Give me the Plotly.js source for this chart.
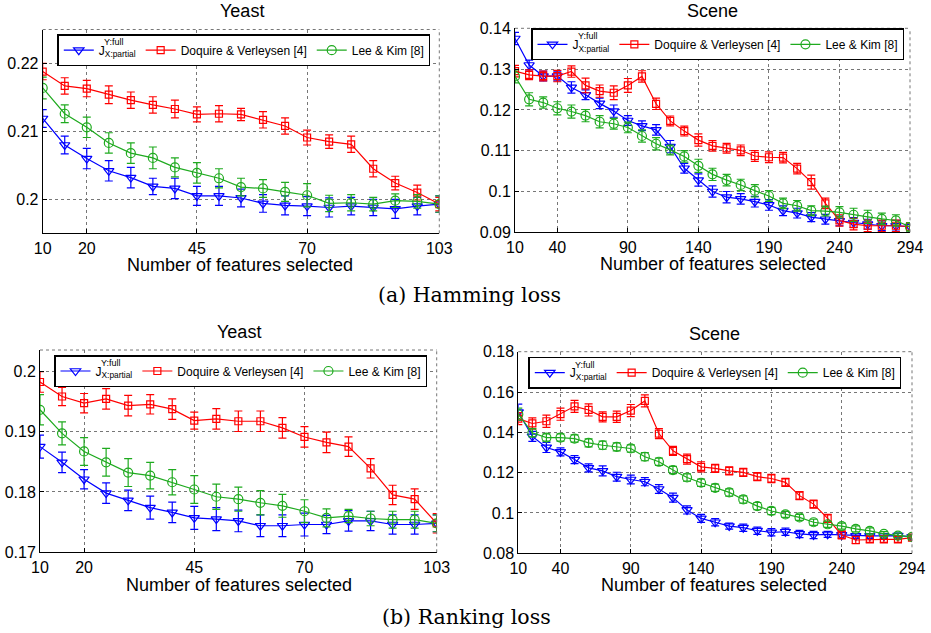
<!DOCTYPE html>
<html>
<head>
<meta charset="utf-8">
<script src="https://cdn.plot.ly/plotly-3.0.1.min.js"></script>
<style>html,body{margin:0;padding:0;background:#fff;}#chart{width:931px;height:633px;}</style>
</head>
<body>
<div id="chart"></div>
<script>
// ---------------- data ----------------
const yeastX = [10,15,20,25,30,35,40,45,50,55,60,65,70,75,80,85,90,95,100];
const sceneX = [10,20,30,40,50,60,70,80,90,100,110,120,130,140,150,160,170,180,190,200,210,220,230,240,250,260,270,280,290];
const yeastTicks = [10,20,45,70,100];
const yeastTickText = ['10','20','45','70','103'];
const sceneTicks = [10,40,90,140,190,240,290];
const sceneTickText = ['10','40','90','140','190','240','294'];

const seriesNames = ['J<sub>X:partial</sub>', 'Doquire & Verleysen [4]', 'Lee & Kim [8]'];
const supText = 'Y:full';
const panelTitles = ['Yeast', 'Scene', 'Yeast', 'Scene'];
const xTitle = 'Number of features selected';
const captions = ['(a) Hamming loss', '(b) Ranking loss'];

// Hamming loss - Yeast
const hamYeastJ    = [0.2119,0.2080,0.2060,0.2042,0.2032,0.2019,0.2016,0.2005,0.2005,0.2002,0.1994,0.1991,0.1990,0.1988,0.1990,0.1988,0.1986,0.1990,0.1993];
const hamYeastJErr = [0.0013,0.0013,0.0015,0.0015,0.0015,0.0012,0.0015,0.0014,0.0014,0.0013,0.0013,0.0014,0.0014,0.0014,0.0013,0.0012,0.0014,0.0013,0.0012];
const hamYeastDV    = [0.2188,0.2167,0.2163,0.2154,0.2146,0.2139,0.2133,0.2125,0.2126,0.2125,0.2117,0.2108,0.2091,0.2085,0.2081,0.2045,0.2024,0.2010,0.1993];
const hamYeastDVErr = [0.0012,0.0012,0.0012,0.0013,0.0012,0.0012,0.0013,0.0011,0.0012,0.0009,0.0012,0.0012,0.0011,0.0010,0.0012,0.0012,0.0010,0.0011,0.0010];
const hamYeastLK    = [0.2164,0.2126,0.2106,0.2083,0.2068,0.2061,0.2047,0.2039,0.2031,0.2018,0.2016,0.2011,0.2006,0.1994,0.1995,0.1993,0.1998,0.1997,0.1993];
const hamYeastLKErr = [0.0016,0.0013,0.0015,0.0015,0.0015,0.0016,0.0014,0.0015,0.0014,0.0013,0.0013,0.0014,0.0017,0.0012,0.0012,0.0010,0.0010,0.0010,0.0012];

// Hamming loss - Scene
const hamSceneJ    = [0.1375,0.1310,0.1283,0.1283,0.1255,0.1237,0.1216,0.1197,0.1174,0.1161,0.1151,0.1110,0.1057,0.1028,0.1000,0.0986,0.0982,0.0975,0.0967,0.0953,0.0947,0.0937,0.0932,0.0928,0.0924,0.0920,0.0916,0.0916,0.0914];
const hamSceneJErr = [0.0015,0.0012,0.0012,0.0012,0.0014,0.0012,0.0013,0.0015,0.0012,0.0012,0.0013,0.0015,0.0012,0.0015,0.0014,0.0014,0.0013,0.0013,0.0013,0.0012,0.0012,0.0011,0.0012,0.0012,0.0012,0.0012,0.0012,0.0013,0.0010];
const hamSceneDV    = [0.1295,0.1286,0.1283,0.1283,0.1294,0.1260,0.1246,0.1242,0.1260,0.1282,0.1215,0.1173,0.1148,0.1126,0.1112,0.1106,0.1101,0.1087,0.1084,0.1083,0.1056,0.1023,0.0971,0.0929,0.0920,0.0916,0.0916,0.0916,0.0914];
const hamSceneDVErr = [0.0014,0.0012,0.0012,0.0014,0.0014,0.0018,0.0015,0.0017,0.0017,0.0014,0.0014,0.0012,0.0012,0.0015,0.0013,0.0012,0.0013,0.0013,0.0013,0.0013,0.0013,0.0017,0.0013,0.0014,0.0014,0.0014,0.0014,0.0014,0.0010];
const hamSceneLK    = [0.1282,0.1226,0.1218,0.1204,0.1196,0.1186,0.1171,0.1166,0.1157,0.1136,0.1117,0.1102,0.1086,0.1063,0.1042,0.1028,0.1016,0.1002,0.0989,0.0971,0.0965,0.0953,0.0952,0.0949,0.0943,0.0938,0.0933,0.0929,0.0913];
const hamSceneLKErr = [0.0016,0.0016,0.0014,0.0016,0.0016,0.0015,0.0015,0.0013,0.0013,0.0015,0.0015,0.0012,0.0014,0.0016,0.0015,0.0014,0.0014,0.0015,0.0013,0.0013,0.0013,0.0012,0.0012,0.0014,0.0016,0.0016,0.0014,0.0014,0.0010];

// Ranking loss - Yeast
const rankYeastJ    = [0.1875,0.1849,0.1821,0.1798,0.1786,0.1774,0.1766,0.1757,0.1755,0.1752,0.1744,0.1744,0.1746,0.1746,0.1752,0.1752,0.1746,0.1746,0.1748];
const rankYeastJErr = [0.0019,0.0017,0.0016,0.0017,0.0017,0.0019,0.0017,0.0019,0.0019,0.0018,0.0018,0.0018,0.0019,0.0015,0.0017,0.0016,0.0016,0.0016,0.0014];
const rankYeastDV    = [0.1982,0.1958,0.1947,0.1954,0.1943,0.1945,0.1937,0.1918,0.1921,0.1917,0.1917,0.1906,0.1891,0.1882,0.1875,0.1839,0.1795,0.1788,0.1748];
const rankYeastDVErr = [0.0017,0.0015,0.0016,0.0017,0.0017,0.0016,0.0017,0.0014,0.0017,0.0017,0.0017,0.0017,0.0017,0.0017,0.0016,0.0016,0.0016,0.0017,0.0016];
const rankYeastLK    = [0.1936,0.1897,0.1867,0.1849,0.1832,0.1827,0.1816,0.1804,0.1792,0.1788,0.1782,0.1777,0.1768,0.1757,0.1760,0.1756,0.1754,0.1754,0.1748];
const rankYeastLKErr = [0.0025,0.0019,0.0023,0.0023,0.0023,0.0022,0.0021,0.0023,0.0021,0.0020,0.0020,0.0019,0.0019,0.0015,0.0011,0.0012,0.0014,0.0014,0.0014];

// Ranking loss - Scene
const rankSceneJ    = [0.1500,0.1380,0.1325,0.1303,0.1265,0.1224,0.1209,0.1180,0.1166,0.1155,0.1119,0.1076,0.1015,0.0973,0.0954,0.0935,0.0927,0.0912,0.0904,0.0907,0.0896,0.0891,0.0894,0.0891,0.0886,0.0886,0.0886,0.0888,0.0881];
const rankSceneJErr = [0.0040,0.0025,0.0025,0.0020,0.0020,0.0020,0.0025,0.0022,0.0022,0.0020,0.0022,0.0022,0.0020,0.0020,0.0018,0.0015,0.0018,0.0018,0.0018,0.0018,0.0018,0.0018,0.0015,0.0015,0.0012,0.0012,0.0012,0.0012,0.0010];
const rankSceneDV    = [0.1468,0.1444,0.1455,0.1490,0.1529,0.1511,0.1477,0.1477,0.1508,0.1556,0.1394,0.1308,0.1267,0.1229,0.1221,0.1209,0.1201,0.1180,0.1171,0.1152,0.1086,0.1044,0.0973,0.0891,0.0866,0.0869,0.0869,0.0869,0.0878];
const rankSceneDVErr = [0.0030,0.0028,0.0030,0.0030,0.0030,0.0030,0.0025,0.0028,0.0030,0.0030,0.0025,0.0022,0.0025,0.0025,0.0020,0.0020,0.0020,0.0020,0.0020,0.0020,0.0020,0.0020,0.0020,0.0020,0.0018,0.0015,0.0015,0.0015,0.0012];
const rankSceneLK    = [0.1490,0.1398,0.1374,0.1374,0.1369,0.1348,0.1336,0.1328,0.1320,0.1279,0.1254,0.1213,0.1176,0.1150,0.1125,0.1102,0.1067,0.1034,0.1010,0.0993,0.0978,0.0954,0.0944,0.0935,0.0921,0.0911,0.0896,0.0888,0.0881];
const rankSceneLKErr = [0.0030,0.0020,0.0018,0.0018,0.0018,0.0020,0.0020,0.0020,0.0018,0.0020,0.0018,0.0018,0.0018,0.0018,0.0018,0.0018,0.0018,0.0018,0.0018,0.0015,0.0015,0.0015,0.0015,0.0015,0.0015,0.0015,0.0012,0.0012,0.0010];

// y-axis ticks
const yTicks1 = [0.2,0.21,0.22];            const yTickText1 = ['0.2','0.21','0.22'];
const yTicks2 = [0.09,0.1,0.11,0.12,0.13,0.14]; const yTickText2 = ['0.09','0.1','0.11','0.12','0.13','0.14'];
const yTicks3 = [0.17,0.18,0.19,0.2];       const yTickText3 = ['0.17','0.18','0.19','0.2'];
const yTicks4 = [0.08,0.1,0.12,0.14,0.16,0.18]; const yTickText4 = ['0.08','0.1','0.12','0.14','0.16','0.18'];

// ---------------- styling ----------------
const W = 931, H = 633;
const SANS = 'Liberation Sans, Arial, Helvetica, sans-serif';
const SERIF = 'DejaVu Serif, serif';
const COLORS = ['#0000ff', '#ff0000', '#1faa1f'];
const SYMBOLS = ['triangle-down-open', 'square-open', 'circle-open'];
const MSIZE = [9, 7, 9];
const px = x => x / W;
const py = y => 1 - y / H;

// panel geometry in pixels: [left, right, top, bottom]
const panels = [
  {box: [42.7, 439.3, 29.5, 233.3], legend: [57.3, 34.2]},
  {box: [515, 910, 28.3, 232.3],    legend: [531, 28.3]},
  {box: [40, 436.7, 350, 552.3],    legend: [54, 355]},
  {box: [518.3, 912, 351.7, 553.3], legend: [528.3, 356.7]}
];

const panelData = [
  {x: yeastX, ys: [hamYeastJ, hamYeastDV, hamYeastLK], es: [hamYeastJErr, hamYeastDVErr, hamYeastLKErr]},
  {x: sceneX, ys: [hamSceneJ, hamSceneDV, hamSceneLK], es: [hamSceneJErr, hamSceneDVErr, hamSceneLKErr]},
  {x: yeastX, ys: [rankYeastJ, rankYeastDV, rankYeastLK], es: [rankYeastJErr, rankYeastDVErr, rankYeastLKErr]},
  {x: sceneX, ys: [rankSceneJ, rankSceneDV, rankSceneLK], es: [rankSceneJErr, rankSceneDVErr, rankSceneLKErr]}
];

const traces = [];
panelData.forEach((p, i) => {
  const suf = i === 0 ? '' : String(i + 1);
  for (let s = 0; s < 3; s++) {
    traces.push({
      type: 'scatter', mode: 'lines+markers',
      x: p.x, y: p.ys[s],
      name: seriesNames[s],
      xaxis: 'x' + suf, yaxis: 'y' + suf,
      legend: 'legend' + suf,
      line: {color: COLORS[s], width: 1.2},
      marker: {symbol: SYMBOLS[s], size: MSIZE[s], color: COLORS[s], line: {width: 1.2, color: COLORS[s]}},
      error_y: {type: 'data', array: p.es[s], visible: true, color: COLORS[s], thickness: 1.2, width: 4}
    });
  }
});

const xT = [[yeastTicks, yeastTickText, [10,100]], [sceneTicks, sceneTickText, [10,290]], [yeastTicks, yeastTickText, [10,100]], [sceneTicks, sceneTickText, [10,290]]];
const yT = [[yTicks1, yTickText1, [0.195,0.225]], [yTicks2, yTickText2, [0.09,0.14]], [yTicks3, yTickText3, [0.17,0.2035]], [yTicks4, yTickText4, [0.08,0.18]]];

const layout = {
  width: W, height: H,
  margin: {l: 0, r: 0, t: 0, b: 0},
  paper_bgcolor: '#fff', plot_bgcolor: '#fff',
  font: {family: SANS, color: '#000'},
  showlegend: true,
  annotations: [], shapes: []
};

panels.forEach((pn, i) => {
  const suf = i === 0 ? '' : String(i + 1);
  const [l, r, t, b] = pn.box;
  const common = {
    showline: true, linecolor: '#000', linewidth: 1,
    ticks: 'inside', ticklen: 4, tickcolor: '#000', tickwidth: 1,
    showgrid: true, gridcolor: '#777', griddash: 'dot', gridwidth: 1,
    zeroline: false, tickfont: {family: SANS, size: 16, color: '#000'},
    tickmode: 'array', fixedrange: true
  };
  layout['xaxis' + suf] = Object.assign({}, common, {
    domain: [px(l), px(r)], anchor: 'y' + suf, range: xT[i][2],
    tickvals: xT[i][0], ticktext: xT[i][1]
  });
  layout['yaxis' + suf] = Object.assign({}, common, {
    domain: [py(b), py(t)], anchor: 'x' + suf, range: yT[i][2],
    tickvals: yT[i][0], ticktext: yT[i][1]
  });
  // dotted top and right frame
  layout.shapes.push({type: 'line', xref: 'x' + suf + ' domain', yref: 'y' + suf + ' domain', x0: 0, x1: 1, y0: 1, y1: 1, line: {color: '#777', width: 1, dash: 'dot'}});
  layout.shapes.push({type: 'line', xref: 'x' + suf + ' domain', yref: 'y' + suf + ' domain', x0: 1, x1: 1, y0: 0, y1: 1, line: {color: '#777', width: 1, dash: 'dot'}});

  layout['legend' + suf] = {
    x: px(pn.legend[0]), y: py(pn.legend[1]), xanchor: 'left', yanchor: 'top',
    xref: 'paper', yref: 'paper',
    orientation: 'h', bgcolor: '#fff', bordercolor: '#000', borderwidth: 1.5,
    font: {family: SANS, size: 12, color: '#000'}, itemclick: false, itemdoubleclick: false
  };
  // superscript of the J label
  layout.annotations.push({
    xref: 'paper', yref: 'paper', x: px(pn.legend[0] + 45), y: py(pn.legend[1] + 8),
    xanchor: 'left', yanchor: 'middle', showarrow: false,
    text: supText, font: {family: SANS, size: 9, color: '#000'}
  });
});

const titlePos = [[241.5, 11.5], [712.5, 11], [239, 331.5], [714, 334]];
const xTitlePos = [[240, 265], [712.5, 264], [239, 585], [714, 585]];
titlePos.forEach((p, i) => layout.annotations.push({
  xref: 'paper', yref: 'paper', x: px(p[0]), y: py(p[1]), xanchor: 'center', yanchor: 'middle',
  showarrow: false, text: panelTitles[i], font: {family: SANS, size: 18, color: '#000'}
}));
xTitlePos.forEach(p => layout.annotations.push({
  xref: 'paper', yref: 'paper', x: px(p[0]), y: py(p[1]), xanchor: 'center', yanchor: 'middle',
  showarrow: false, text: xTitle, font: {family: SANS, size: 18, color: '#000'}
}));
[[469, 295], [466, 617]].forEach((p, i) => layout.annotations.push({
  xref: 'paper', yref: 'paper', x: px(p[0]), y: py(p[1]), xanchor: 'center', yanchor: 'middle',
  showarrow: false, text: captions[i], font: {family: SERIF, size: 20.5, color: '#000'}
}));

Plotly.newPlot('chart', traces, layout, {staticPlot: true, displayModeBar: false});
</script>
</body>
</html>
